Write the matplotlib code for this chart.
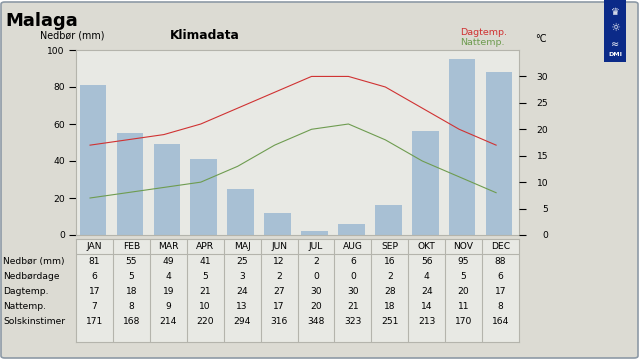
import numpy as np
import matplotlib
matplotlib.use('Agg')
import matplotlib.pyplot as plt
from matplotlib.patches import FancyBboxPatch, Rectangle
from matplotlib.transforms import blended_transform_factory

months = ['JAN', 'FEB', 'MAR', 'APR', 'MAJ', 'JUN', 'JUL', 'AUG', 'SEP', 'OKT', 'NOV', 'DEC']
nedbor = [81, 55, 49, 41, 25, 12, 2, 6, 16, 56, 95, 88]
nedbordage = [6, 5, 4, 5, 3, 2, 0, 0, 2, 4, 5, 6]
dagtemp = [17, 18, 19, 21, 24, 27, 30, 30, 28, 24, 20, 17]
nattemp = [7, 8, 9, 10, 13, 17, 20, 21, 18, 14, 11, 8]
sol = [171, 168, 214, 220, 294, 316, 348, 323, 251, 213, 170, 164]
row_names = ['Nedbør (mm)', 'Nedbørdage', 'Dagtemp.', 'Nattemp.', 'Solskinstimer']

W, H = 640, 360
BG = '#dcdbd3'
PANEL = '#e8e9e4'
GRID = '#b4b4ac'
RED = '#d03232'
GREEN = '#6e9c50'
BAR = '#a8c0d4'
FS = 6.6

plt.rcParams['font.family'] = ['DejaVu Sans']


def box(x0, y0, x1, y1):
    # pixel box (top-left origin) -> figure rect
    return [x0 / W, 1 - y1 / H, (x1 - x0) / W, (y1 - y0) / H]


def px(x, y):
    return x / W, 1 - y / H


fig = plt.figure(figsize=(6.4, 3.6), dpi=100)
fig.patch.set_facecolor('white')
frame = FancyBboxPatch(px(1, 358), 637 / W, 356 / H, boxstyle='round,pad=0,rounding_size=0.006',
                       transform=fig.transFigure, facecolor=BG, edgecolor='#8d9aa6', lw=1.2, zorder=-10)
fig.patches.append(frame)

# main chart
ax = fig.add_axes(box(76, 50, 519, 235))
ax.set_facecolor(PANEL)
x = np.arange(len(months))
ax.bar(x - 0.04, nedbor, width=0.72, color=BAR, zorder=2)
ax.set_xlim(-0.5, 11.5)
ax.set_ylim(0, 100)
ax.set_yticks(range(0, 101, 20))
ax.set_xticks([])
for s in ax.spines.values():
    s.set_color(GRID)
    s.set_linewidth(0.8)
ax.tick_params(axis='y', labelsize=FS, length=5, width=0.8, pad=3, color='black')

ax2 = ax.twinx()
ax2.plot(x - 0.12, dagtemp, color=RED, lw=0.8, zorder=3)
ax2.plot(x - 0.12, nattemp, color=GREEN, lw=0.8, zorder=3)
ax2.set_ylim(0, 35)
ax2.set_yticks(range(0, 31, 5))
ax2.tick_params(axis='y', labelsize=FS, length=5, width=0.8, pad=16, color='black')
for lab in ax2.get_yticklabels():
    lab.set_horizontalalignment('right')
for s in ax2.spines.values():
    s.set_visible(False)

# table
tab = fig.add_axes(box(76, 239, 519, 342.3))
tab.set_facecolor(PANEL)
tab.set_xlim(-0.5, 11.5)
tab.set_ylim(5.87, -1.02)
tab.set_xticks([])
tab.set_yticks([])
for s in tab.spines.values():
    s.set_color(GRID)
    s.set_linewidth(0.8)
for b in np.arange(0.5, 11.5, 1):
    tab.axvline(b, color=GRID, lw=0.8)
tab.axhline(0, color=GRID, lw=0.8)
for i, m in enumerate(months):
    tab.text(i, -0.5, m, ha='center', va='center', fontsize=FS)
rows = [nedbor, nedbordage, dagtemp, nattemp, sol]
for r, vals in enumerate(rows):
    for i, v in enumerate(vals):
        tab.text(i, r + 0.5, str(v), ha='center', va='center', fontsize=FS)
trans = blended_transform_factory(fig.transFigure, tab.transData)
for r, name in enumerate(row_names):
    tab.text(3 / W, r + 0.5, name, transform=trans, ha='left', va='center', fontsize=FS, clip_on=False)

# texts
fig.text(*px(5, 25.5), 'Malaga', fontsize=13, fontweight='bold', va='baseline')
fig.text(*px(170, 39.3), 'Klimadata', fontsize=8.8, fontweight='bold', va='baseline')
fig.text(*px(40, 39), 'Nedbør (mm)', fontsize=6.9, va='baseline')
fig.text(*px(460, 35), 'Dagtemp.', fontsize=6.8, color=RED, va='baseline')
fig.text(*px(460, 45), 'Nattemp.', fontsize=6.8, color=GREEN, va='baseline')
fig.text(*px(535, 41.7), '°C', fontsize=7, va='baseline')

# dmi logo
fig.patches.append(Rectangle(px(604, 62), 22 / W, 62 / H, transform=fig.transFigure,
                             facecolor='#0b2a88', edgecolor='none'))
fig.text(*px(615, 12), '♛', fontsize=7, color='white', ha='center', va='center')
fig.text(*px(615, 28), '☼', fontsize=8, color='white', ha='center', va='center')
fig.text(*px(615, 44), '≈', fontsize=7, color='white', ha='center', va='center')
fig.text(*px(615, 55), 'DMI', fontsize=4.5, fontweight='bold', color='white', ha='center', va='center')

fig.savefig('out.png', dpi=100, facecolor=fig.get_facecolor())
